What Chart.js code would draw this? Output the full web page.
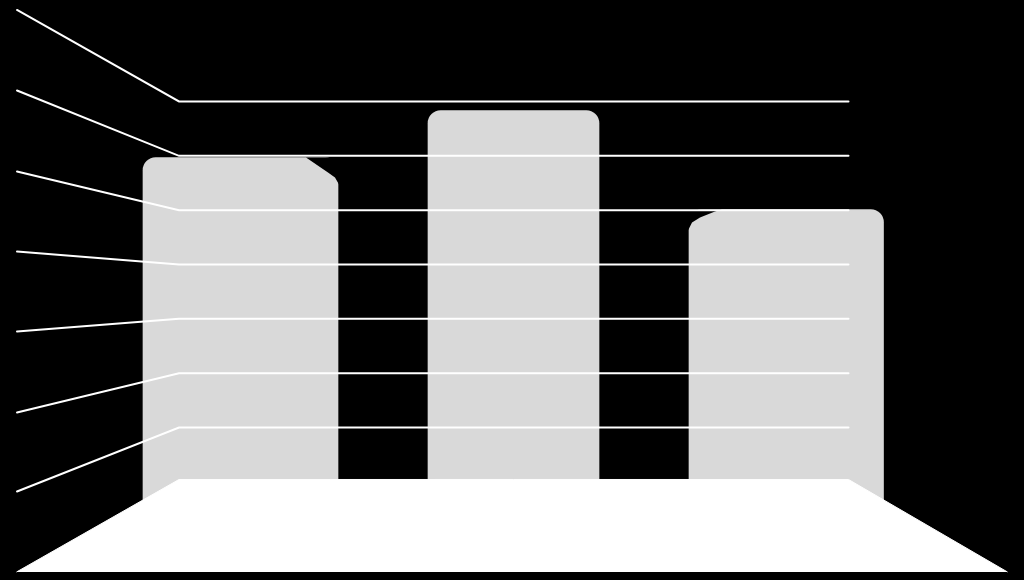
<!DOCTYPE html>
<html>
<head>
<meta charset="utf-8">
<style>
html,body{margin:0;padding:0;background:#000;overflow:hidden}
canvas{display:block}
</style>
<script src="https://cdn.jsdelivr.net/npm/chart.js@4"></script>
</head>
<body>
<canvas id="c" width="1024" height="580"></canvas>
<script>
const barCenters = [240.5, 513.5, 786.25];
const barWidths = [195, 171, 194.5];
const barTops = [5.97, 6.835, 5.012];
const barBase = -1;
const tickValues = [1, 2, 3, 4, 5, 6, 7];
const wallEnds = [-0.178, 1.276, 2.767, 4.239, 5.712, 7.203, 8.685];
const wallX = [17, 179, 848.5];
const floorX = [16.5, 179, 848.5, 1007.5];
const floorY = [-1.66, 0.043, 0.043, -1.66];
const notchLeftX = [306, 328, 335, 339];
const notchLeftY = [5.97, 5.693, 5.601, 5.472];
const notchRightX = [687, 689, 692, 700, 715, 722];
const notchRightY = [4.6, 4.663, 4.773, 4.865, 4.976, 5.012];

const toPoints = (xs, ys) => xs.map((x, i) => ({x, y: ys[i]}));
const datasets = [];

barCenters.forEach((x, i) => datasets.push({
  type: 'bar', order: 4, grouped: false,
  data: [{x, y: [barBase, barTops[i]]}],
  barThickness: barWidths[i],
  backgroundColor: '#d9d9d9',
  borderWidth: 0,
  borderSkipped: false,
  borderRadius: {topLeft: 13, topRight: 13, bottomLeft: 0, bottomRight: 0}
}));

datasets.push({
  type: 'line', order: 3, data: toPoints(notchLeftX, notchLeftY),
  borderWidth: 0, pointRadius: 0, backgroundColor: '#000', fill: {value: barTops[0]}
});
datasets.push({
  type: 'line', order: 3, data: toPoints(notchRightX, notchRightY),
  borderWidth: 0, pointRadius: 0, backgroundColor: '#000', fill: {value: barTops[2]}
});

datasets.push({
  type: 'line', order: 2, data: toPoints(floorX, floorY),
  borderColor: '#fff', borderWidth: 1, pointRadius: 0,
  backgroundColor: '#fff', fill: {value: floorY[0]}
});

tickValues.forEach((v, i) => datasets.push({
  type: 'line', order: 1,
  data: toPoints(wallX, [wallEnds[i], v, v]),
  borderColor: '#fff', borderWidth: 2, pointRadius: 0,
  borderCapStyle: 'round', fill: false, tension: 0
}));

new Chart(document.getElementById('c'), {
  data: {datasets},
  options: {
    responsive: false,
    animation: false,
    events: [],
    layout: {padding: 0},
    plugins: {legend: {display: false}, tooltip: {enabled: false}, title: {display: false}},
    scales: {
      x: {type: 'linear', min: 0, max: 1024, display: false, offset: false},
      y: {type: 'linear', min: -1.807, max: 8.868, display: false}
    }
  }
});
</script>
</body>
</html>
